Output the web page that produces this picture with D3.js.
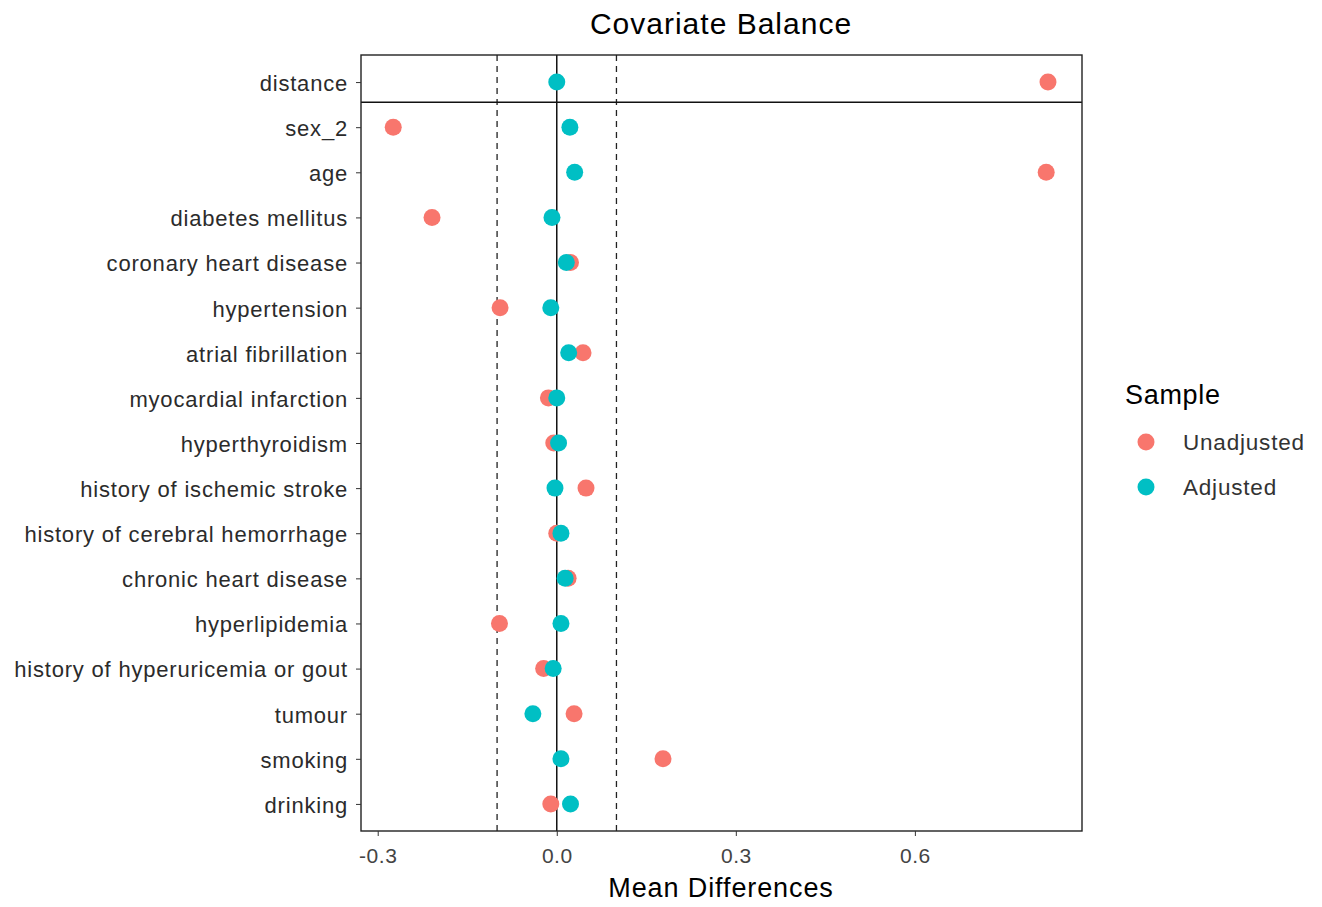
<!DOCTYPE html>
<html>
<head>
<meta charset="utf-8">
<script src="https://cdn.jsdelivr.net/npm/d3@7"></script>
<style>
  body { margin: 0; background: #fff; }
  text { font-family: "Liberation Sans", Arial, sans-serif; }
</style>
</head>
<body>
<div id="chart"></div>
<script>
// covariates, top to bottom
const covariates = ["distance", "sex_2", "age", "diabetes mellitus", "coronary heart disease",
  "hypertension", "atrial fibrillation", "myocardial infarction", "hyperthyroidism",
  "history of ischemic stroke", "history of cerebral hemorrhage", "chronic heart disease",
  "hyperlipidemia", "history of hyperuricemia or gout", "tumour", "smoking", "drinking"];

const unadjusted = [0.823, -0.274, 0.820, -0.209, 0.023, -0.095, 0.044, -0.014, -0.005,
  0.049, 0.000, 0.019, -0.096, -0.022, 0.029, 0.178, -0.010];
const adjusted = [0.000, 0.022, 0.030, -0.008, 0.016, -0.010, 0.020, 0.000, 0.003,
  -0.003, 0.007, 0.014, 0.007, -0.006, -0.040, 0.007, 0.023];

const xTicks = [-0.3, 0.0, 0.3, 0.6];
const thresholds = [-0.1, 0.1];
const samples = ["Unadjusted", "Adjusted"];
const colors = ["#F8766D", "#00BFC4"];

const W = 1322, H = 907;
const margin = {top: 55, right: 240, bottom: 76, left: 361};
const pw = W - margin.left - margin.right;   // 721
const ph = H - margin.top - margin.bottom;   // 776

const svg = d3.select("#chart").append("svg")
  .attr("width", W).attr("height", H);

const g = svg.append("g").attr("transform", `translate(${margin.left},${margin.top})`);

const x = d3.scaleLinear().domain([-0.328, 0.880]).range([0, pw]);
// rows indexed from bottom (1) to top (17), ggplot style expansion of 0.6
const n = covariates.length;
const y = d3.scaleLinear().domain([0.4, n + 0.6]).range([ph, 0]);
const rowY = i => y(n - i);

// threshold lines
g.selectAll(".thr").data(thresholds).join("line")
  .attr("x1", d => x(d)).attr("x2", d => x(d))
  .attr("y1", 0).attr("y2", ph)
  .attr("stroke", "#222").attr("stroke-width", 1.3)
  .attr("stroke-dasharray", "6,5");

// zero line
g.append("line")
  .attr("x1", x(0)).attr("x2", x(0)).attr("y1", 0).attr("y2", ph)
  .attr("stroke", "#111").attr("stroke-width", 1.5);

// separator under distance
g.append("line")
  .attr("x1", 0).attr("x2", pw)
  .attr("y1", y(n - 0.45)).attr("y2", y(n - 0.45))
  .attr("stroke", "#111").attr("stroke-width", 1.5);

// points (adjusted drawn on top)
const pts = [];
covariates.forEach((c, i) => {
  pts.push({s: 0, i: i, v: unadjusted[i]});
});
covariates.forEach((c, i) => {
  pts.push({s: 1, i: i, v: adjusted[i]});
});
g.selectAll(".pt").data(pts).join("circle")
  .attr("cx", d => x(d.v)).attr("cy", d => rowY(d.i))
  .attr("r", 8.5)
  .attr("fill", d => colors[d.s]);

// panel border
g.append("rect").attr("width", pw).attr("height", ph)
  .attr("fill", "none").attr("stroke", "#222").attr("stroke-width", 1.4);

// x axis
const xa = g.append("g").attr("transform", `translate(0,${ph})`)
  .call(d3.axisBottom(x).tickValues(xTicks)
    .tickFormat(d => d3.format(".1f")(d).replace("\u2212", "-"))
    .tickSize(5).tickPadding(12));
xa.select(".domain").remove();
xa.selectAll("line").attr("stroke", "#333");
xa.selectAll("text").attr("font-size", 21).attr("fill", "#444")
  .attr("letter-spacing", 0.5)
  .attr("font-family", "Liberation Sans, Arial, sans-serif");

// y axis
const ya = g.append("g")
  .call(d3.axisLeft(y).tickValues(d3.range(1, n + 1)).tickFormat(d => covariates[n - d]).tickSize(5).tickPadding(8));
ya.select(".domain").remove();
ya.selectAll("line").attr("stroke", "#333");
ya.selectAll("text").attr("font-size", 22).attr("fill", "#2b2b2b")
  .attr("letter-spacing", 0.8)
  .attr("dy", "0.38em")
  .attr("font-family", "Liberation Sans, Arial, sans-serif");

// titles
svg.append("text").attr("x", 721).attr("y", 34).attr("text-anchor", "middle")
  .attr("font-size", 30).attr("letter-spacing", 1).attr("fill", "#000").text("Covariate Balance");
svg.append("text").attr("x", 721).attr("y", 897).attr("text-anchor", "middle")
  .attr("font-size", 27).attr("letter-spacing", 0.9).attr("fill", "#000").text("Mean Differences");

// legend
const lg = svg.append("g").attr("transform", "translate(1125,0)");
lg.append("text").attr("x", 0).attr("y", 404).attr("font-size", 27).attr("letter-spacing", 0.7)
  .attr("fill", "#000").text("Sample");
samples.forEach((s, k) => {
  const yy = 442 + k * 45;
  lg.append("circle").attr("cx", 21).attr("cy", yy).attr("r", 8.5).attr("fill", colors[k]);
  lg.append("text").attr("x", 58).attr("y", yy + 8).attr("font-size", 22.5).attr("letter-spacing", 0.8)
    .attr("fill", "#333").text(s);
});
</script>
</body>
</html>
